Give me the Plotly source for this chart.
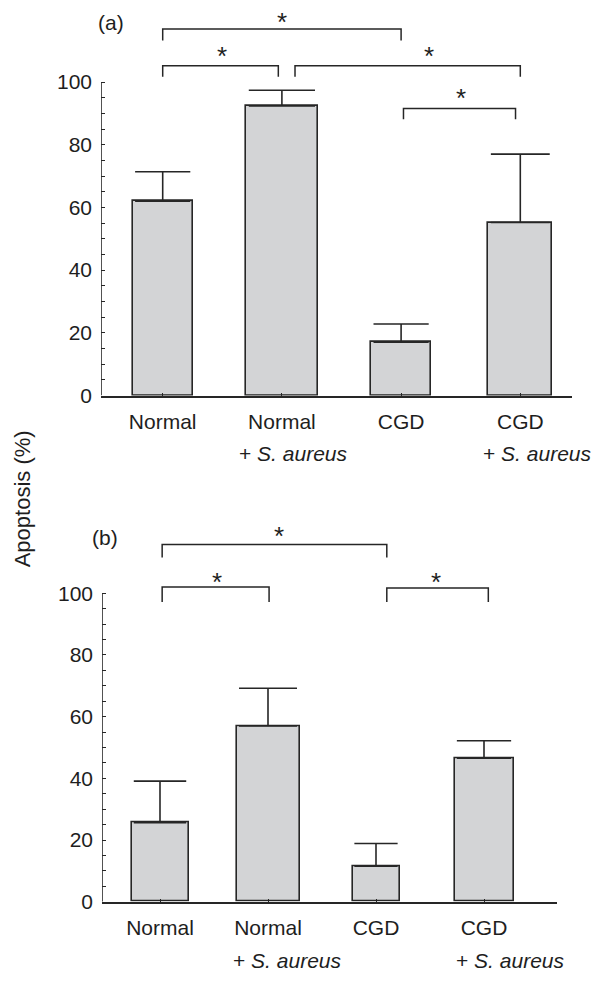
import plotly.graph_objects as go

# ---------------- data ----------------
categories = ["Normal", "Normal", "CGD", "CGD"]
sub_labels = ["", "+ <i>S. aureus</i>", "", "+ <i>S. aureus</i>"]
y_ticks = [0, 20, 40, 60, 80, 100]
minor_ticks = list(range(0, 101, 5))

a_values = [62.0, 92.4, 17.0, 55.2]
a_errors = [9.4, 5.0, 5.8, 21.8]
b_values = [25.6, 57.0, 11.5, 46.5]
b_errors = [13.5, 12.2, 7.4, 5.7]

# significance brackets: (x_start, x_end, line_y, tip_y), star: (x, y)
a_brackets = [(0.0, 2.0, 116.9, 113.3), (0.0, 0.97, 105.2, 101.7),
              (1.11, 3.0, 105.2, 101.7), (2.02, 2.96, 91.6, 88.1)]
a_stars = [(1.0, 121.6), (0.5, 110.8), (2.23, 110.8), (2.5, 97.6)]
b_brackets = [(0.02, 2.1, 115.8, 111.6), (0.02, 1.01, 102.0, 97.2),
              (2.1, 3.04, 101.7, 97.2)]
b_stars = [(1.1, 121.3), (0.53, 106.3), (2.56, 106.2)]

# ---------------- layout geometry (pixels) ----------------
W, H = 599, 981
FONT = "Liberation Sans, Arial, Helvetica, sans-serif"
INK = "#262626"
FILL = "#d3d4d6"

panels = [
    dict(name="a", vals=a_values, errs=a_errors, brackets=a_brackets, stars=a_stars,
         x_left=101, x_right=572, c0=162.7, step=119.2,
         y0px=400, ppu=3.17, ytop=4,
         widths_px=[60, 72, 60, 64], sub_x=[None, 1.09, None, 3.14], sub_ypx=459,
         label="(a)", label_px=(111, 23)),
    dict(name="b", vals=b_values, errs=b_errors, brackets=b_brackets, stars=b_stars,
         x_left=102, x_right=557, c0=160.0, step=108.0,
         y0px=912, ppu=3.12, ytop=505,
         widths_px=[57, 63, 47, 59], sub_x=[None, 1.18, None, 3.24], sub_ypx=971,
         label="(b)", label_px=(105, 544)),
]

fig = go.Figure()
annotations = []
shapes = []

for k, p in enumerate(panels):
    xa = "x" if k == 0 else "x2"
    ya = "y" if k == 0 else "y2"
    xr = [(p["x_left"] - p["c0"]) / p["step"], (p["x_right"] - p["c0"]) / p["step"]]
    yr = [0, (p["y0px"] - p["ytop"]) / p["ppu"]]
    xdom = [p["x_left"] / W, p["x_right"] / W]
    ydom = [1 - p["y0px"] / H, 1 - p["ytop"] / H]
    ax_suffix = "" if k == 0 else "2"

    for i, (v, e) in enumerate(zip(p["vals"], p["errs"])):
        wpx = p["widths_px"][i]
        fig.add_trace(go.Bar(
            x=[i], y=[v], width=[wpx / p["step"]],
            marker=dict(color=FILL, line=dict(color=INK, width=1.6)),
            error_y=dict(type="data", symmetric=False, array=[e], arrayminus=[0],
                         color=INK, thickness=1.6, width=wpx * 0.46),
            xaxis=xa, yaxis=ya, showlegend=False, hoverinfo="skip"))

    # y axis line from 0 to 100
    fig.add_trace(go.Scatter(x=[xr[0], xr[0]], y=[0, 100], mode="lines",
                             line=dict(color=INK, width=1.6), cliponaxis=False,
                             xaxis=xa, yaxis=ya, showlegend=False, hoverinfo="skip"))

    fig.layout["xaxis" + ax_suffix] = dict(
        domain=xdom, range=xr, anchor=ya, showgrid=False, zeroline=False,
        showline=True, linecolor=INK, linewidth=1.6,
        tickmode="array", tickvals=list(range(len(categories))), ticktext=categories,
        ticks="inside", ticklen=3, tickwidth=1.2, tickcolor=INK,
        tickfont=dict(family=FONT, size=21, color="#1e1e1e"), ticklabelstandoff=6,
        fixedrange=True)
    fig.layout["yaxis" + ax_suffix] = dict(
        domain=ydom, range=yr, anchor=xa, showgrid=False, zeroline=False,
        showline=False, tickmode="array", tickvals=y_ticks,
        ticks="inside", ticklen=4, tickwidth=1.2, tickcolor=INK,
        minor=dict(tickmode="array", tickvals=minor_ticks, ticks="inside",
                   ticklen=4, tickwidth=1.2, tickcolor=INK),
        tickfont=dict(family=FONT, size=21, color="#1e1e1e"), ticklabelstandoff=8,
        fixedrange=True)

    for (x0, x1, yl, yt) in p["brackets"]:
        shapes.append(dict(type="path", xref=xa, yref=ya,
                           path=f"M {x0},{yt} L {x0},{yl} L {x1},{yl} L {x1},{yt}",
                           line=dict(color=INK, width=1.5)))
    for (sx, sy) in p["stars"]:
        annotations.append(dict(x=sx, y=sy, xref=xa, yref=ya, text="*", showarrow=False,
                                font=dict(family=FONT, size=26, color="#1e1e1e"),
                                xanchor="center", yanchor="middle", yshift=-8))
    for i, sx in enumerate(p["sub_x"]):
        if sx is None:
            continue
        annotations.append(dict(x=sx, y=1 - p["sub_ypx"] / H, xref=xa, yref="paper",
                                text=sub_labels[i], showarrow=False,
                                font=dict(family=FONT, size=21, color="#1e1e1e"),
                                xanchor="center", yanchor="middle"))
    lx, ly = p["label_px"]
    annotations.append(dict(x=lx / W, y=1 - ly / H, xref="paper", yref="paper",
                            text=p["label"], showarrow=False,
                            font=dict(family=FONT, size=21, color="#1e1e1e"),
                            xanchor="center", yanchor="middle"))

annotations.append(dict(x=22 / W, y=1 - 505 / H, xref="paper", yref="paper",
                        text="Apoptosis (%)", textangle=-90, showarrow=False,
                        font=dict(family=FONT, size=22, color="#1e1e1e"),
                        xanchor="center", yanchor="middle"))

fig.update_layout(width=W, height=H, margin=dict(l=0, r=0, t=0, b=0),
                  paper_bgcolor="white", plot_bgcolor="white",
                  showlegend=False, bargap=0, shapes=shapes, annotations=annotations)

fig.write_html("out.html", config={"displayModeBar": False})
